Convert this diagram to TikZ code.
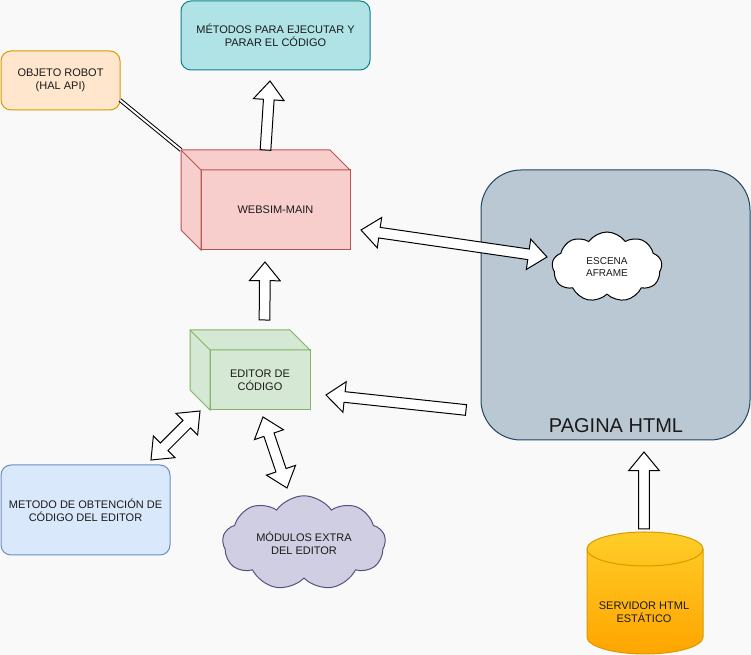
\documentclass[tikz,border=0pt]{standalone}
\usepackage{fontspec}
\setmainfont{Liberation Sans}
\usetikzlibrary{calc,shapes.symbols}

\definecolor{bgcol}{RGB}{249,249,249}
\definecolor{txtcol}{HTML}{1A1A1A}
\definecolor{metfill}{HTML}{B0E3E6}\definecolor{metline}{HTML}{0E8088}
\definecolor{robfill}{HTML}{FFE6CC}\definecolor{robline}{HTML}{D79B00}
\definecolor{mainfill}{HTML}{F8CECC}\definecolor{mainline}{HTML}{B85450}
\definecolor{edfill}{HTML}{D5E8D4}\definecolor{edline}{HTML}{82B366}
\definecolor{obtfill}{HTML}{DAE8FC}\definecolor{obtline}{HTML}{6C8EBF}
\definecolor{modfill}{HTML}{D0CEE2}\definecolor{modline}{HTML}{56517E}
\definecolor{pagfill}{HTML}{BAC8D3}\definecolor{pagline}{HTML}{23445D}
\definecolor{cyltop}{HTML}{FFCD28}\definecolor{cylbot}{HTML}{FFA500}

\tikzset{
    box/.style={rectangle, rounded corners=7.5pt, draw, align=center, inner sep=0pt, outer sep=0pt},
    face/.style={rectangle, draw, align=center, inner sep=0pt, outer sep=0pt},
    % block arrow, one head
    flex/.style={draw=black, fill=white, line join=miter,
        to path={let \p1=(\tikztostart), \p2=(\tikztotarget),
            \n1={atan2(\y2-\y1,\x2-\x1)}, \n2={veclen(\x2-\x1,\y2-\y1)} in
            ($(\p1)+(\n1+90:4pt)$) -- ($(\p1)+(\n1:{\n2-14pt})+(\n1+90:4pt)$)
            -- ($(\p1)+(\n1:{\n2-14pt})+(\n1+90:11.5pt)$) -- (\p2)
            -- ($(\p1)+(\n1:{\n2-14pt})+(\n1-90:11.5pt)$)
            -- ($(\p1)+(\n1:{\n2-14pt})+(\n1-90:4pt)$)
            -- ($(\p1)+(\n1-90:4pt)$) -- cycle}},
    % block arrow, two heads
    dflex/.style={draw=black, fill=white, line join=miter,
        to path={let \p1=(\tikztostart), \p2=(\tikztotarget),
            \n1={atan2(\y2-\y1,\x2-\x1)}, \n2={veclen(\x2-\x1,\y2-\y1)} in
            (\p1) -- ($(\p1)+(\n1:14pt)+(\n1+90:11.5pt)$)
            -- ($(\p1)+(\n1:14pt)+(\n1+90:4pt)$)
            -- ($(\p1)+(\n1:{\n2-14pt})+(\n1+90:4pt)$)
            -- ($(\p1)+(\n1:{\n2-14pt})+(\n1+90:11.5pt)$) -- (\p2)
            -- ($(\p1)+(\n1:{\n2-14pt})+(\n1-90:11.5pt)$)
            -- ($(\p1)+(\n1:{\n2-14pt})+(\n1-90:4pt)$)
            -- ($(\p1)+(\n1:14pt)+(\n1-90:4pt)$)
            -- ($(\p1)+(\n1:14pt)+(\n1-90:11.5pt)$) -- cycle}},
    puff/.style={cloud, cloud puffs=9, cloud puff arc=110, align=center, inner sep=0pt},
}

\begin{document}
\begin{tikzpicture}[x=0.75pt, y=-0.75pt, line width=.75pt,
    every node/.append style={text=txtcol},
    font=\fontsize{8.25}{10}\selectfont]

    \fill[bgcol, use as bounding box] (0,0) rectangle (751,655);

    % pagina html
    \node[box, rounded corners=30pt, fill=pagfill, draw=pagline,
        minimum width=201.75pt, minimum height=202.5pt] (pag) at (615.5,305) {};
    \node[font=\fontsize{15}{18}\selectfont] (pagtxt) at (616,426) {PAGINA HTML};
    \node[puff, aspect=1.57, draw=black, fill=white, minimum width=82.5pt, minimum height=52.5pt,
        font=\fontsize{7.5}{9}\selectfont] (esc) at (607,267) {ESCENA\\AFRAME};

    % boxes
    \node[box, fill=metfill, draw=metline, minimum width=141.75pt, minimum height=51.75pt]
        (met) at (275.5,35.5) {MÉTODOS PARA EJECUTAR Y\\PARAR EL CÓDIGO};
    \node[box, fill=robfill, draw=robline, minimum width=89.25pt, minimum height=44.25pt]
        (robot) at (60.5,80.5) {OBJETO ROBOT\\(HAL API)};
    \node[box, fill=obtfill, draw=obtline, minimum width=126.75pt, minimum height=67.5pt]
        (obt) at (85.5,510) {METODO DE OBTENCIÓN DE\\CÓDIGO DEL EDITOR};

    % websim-main (cube)
    \node[face, fill=mainfill, draw=mainline, minimum width=111.75pt, minimum height=60pt]
        (main) at (275.5,210) {WEBSIM-MAIN};
    \filldraw[fill=mainfill, draw=mainline] (main.south west) -- ++(-20,-20)
        |- ([shift={(-20,-20)}]main.north east) -- (main.north east) -- (main.north west) -- cycle;
    \draw[mainline] (main.north west) -- ++(-20,-20) coordinate (mainback);

    % editor de codigo (cube)
    \node[face, fill=edfill, draw=edline, minimum width=75pt, minimum height=45pt]
        (edit) at (260,380) {EDITOR DE\\CÓDIGO};
    \filldraw[fill=edfill, draw=edline] (edit.south west) -- ++(-20,-20)
        |- ([shift={(-20,-20)}]edit.north east) -- (edit.north east) -- (edit.north west) -- cycle;
    \draw[edline] (edit.north west) -- ++(-20,-20);

    % modulos extra
    \node[puff, aspect=1.8, fill=modfill, draw=modline, minimum width=122.25pt, minimum height=67.5pt]
        (mod) at (304,543) {MÓDULOS EXTRA\\DEL EDITOR};

    % servidor (cylinder)
    \node[minimum width=87pt, minimum height=91.5pt, inner sep=0pt] (srv) at (645,593) {};
    \shade[top color=cyltop, bottom color=cylbot, draw=robline]
        (587,549) -- (587,637) arc[start angle=180, end angle=360, x radius=43.5pt, y radius=12.75pt]
        -- (703,549) arc[start angle=0, end angle=180, x radius=43.5pt, y radius=12.75pt] -- cycle;
    \draw[robline] (587,549) arc[start angle=180, end angle=360, x radius=43.5pt, y radius=12.75pt];
    \node (srvtxt) at (644,612) [align=center] {SERVIDOR HTML\\ESTÁTICO};

    % link robot - main
    \draw[double=white, double distance=1.5pt] ([yshift=7.5pt]robot.south east) -- (mainback);

    % block arrows
    \coordinate (mainup) at (265.5,150);  \coordinate (metdown) at (270,81);
    \coordinate (editup) at (264.5,320);  \coordinate (maindown) at (265,262);
    \coordinate (pagleft) at (466,410);   \coordinate (editright) at (326,395);
    \coordinate (srvup) at (644,529);     \coordinate (pagdown) at (644,452);
    \coordinate (obtup) at (151,460);     \coordinate (editdl) at (200,411);
    \coordinate (editdown) at (263,417);  \coordinate (modup) at (287,488);
    \coordinate (mainright) at (361,230); \coordinate (escleft) at (547,257);
    \foreach \s/\e in {mainup/metdown, editup/maindown, pagleft/editright, srvup/pagdown}
        \draw[flex] (\s) to (\e);
    \foreach \s/\e in {obtup/editdl, editdown/modup, mainright/escleft}
        \draw[dflex] (\s) to (\e);
\end{tikzpicture}
\end{document}
